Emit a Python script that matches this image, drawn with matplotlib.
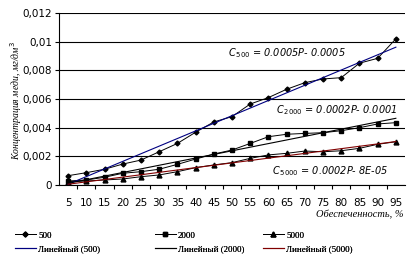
import numpy as np
import matplotlib.pyplot as plt

# обеспеченность, %
p = [5, 10, 15, 20, 25, 30, 35, 40, 45, 50, 55, 60, 65, 70, 75, 80, 85, 90, 95]

c500 = [0.00065, 0.00086, 0.0011, 0.00146, 0.00174, 0.00232, 0.0029, 0.00368, 0.0044,
        0.00477, 0.00565, 0.0061, 0.00668, 0.00714, 0.0074, 0.00749, 0.0085, 0.00884, 0.0102]
c2000 = [0.00028, 0.00035, 0.00054, 0.00082, 0.00093, 0.0011, 0.00144, 0.00181, 0.00216,
         0.00244, 0.0029, 0.00337, 0.00354, 0.0036, 0.00365, 0.00379, 0.004, 0.00426, 0.00435]
c5000 = [0.00023, 0.00028, 0.00035, 0.00042, 0.00058, 0.0007, 0.00093, 0.00121, 0.0014,
         0.00156, 0.00186, 0.0021, 0.00221, 0.00237, 0.00232, 0.00239, 0.00256, 0.00284, 0.00302]

yticks = [0, 0.002, 0.004, 0.006, 0.008, 0.01, 0.012]
ytick_labels = ['0', '0,002', '0,004', '0,006', '0,008', '0,01', '0,012']

plt.rcParams['font.family'] = ['DejaVu Sans']

fig = plt.figure(figsize=(4.08, 2.59), dpi=100)
ax = fig.add_axes([0.1446, 0.2857, 0.848, 0.664])

idx = np.arange(1, len(p) + 1)

# данные
h500, = ax.plot(idx, c500, color='black', lw=0.7, marker='D', ms=2.5, label='500')
h2000, = ax.plot(idx, c2000, color='black', lw=0.7, marker='s', ms=3.2, label='2000')
h5000, = ax.plot(idx, c5000, color='black', lw=0.7, marker='^', ms=3.5, label='5000')

# линейные тренды (по номеру категории, как в Excel)
trend_colors = ['#000080', 'black', '#800000']
trend_handles = []
for ser, col, name in zip([c500, c2000, c5000], trend_colors, ['500', '2000', '5000']):
    k, b = np.polyfit(idx, ser, 1)
    h, = ax.plot(idx, k * idx + b, color=col, lw=0.8, label='Линейный (%s)' % name)
    trend_handles.append(h)

ax.set_xlim(0.5, len(p) + 0.5)
ax.set_ylim(0, 0.012)
ax.set_yticks(yticks)
ax.set_yticklabels(ytick_labels)
ax.set_xticks(idx)
ax.set_xticklabels([str(v) for v in p])
ax.set_xticks(np.arange(1.5, len(p) + 0.5, 1), minor=True)
ax.tick_params(axis='x', which='major', length=0, pad=9, labelsize=7.5)
ax.tick_params(axis='x', which='minor', length=3, width=0.8, direction='out')
ax.tick_params(axis='y', length=3, width=0.8, labelsize=7.5, pad=2)

ax.grid(axis='y', color='black', lw=0.8)
ax.set_axisbelow(True)
for s in ['top', 'right']:
    ax.spines[s].set_visible(False)
ax.spines['left'].set_linewidth(0.8)
ax.spines['bottom'].set_linewidth(0.8)

ax.text(9.8, 0.0092, r'$C_{\,500}$ = 0.0005P- 0.0005', fontsize=7, style='italic', va='center')
ax.text(12.4, 0.0052, r'$C_{\,2000}$ = 0.0002P- 0.0001', fontsize=7, style='italic', va='center')
ax.text(12.2, 0.00098, r'$C_{\,5000}$ = 0.0002P- 8E-05', fontsize=7, style='italic', va='center')

fig.text(0.04, 0.61, 'Концентрация меди, мг/дм$^3$', rotation=90, ha='center', va='center',
         fontsize=7, style='italic', family='Liberation Serif')
fig.text(0.99, 0.17, 'Обеспеченность, %', ha='right', va='center', fontsize=7.5,
         style='italic', family='Liberation Serif')

# легенда: три колонки в разных местах, как в Excel
leg_x = [15, 155, 263]
pairs = [(h500, trend_handles[0]), (h2000, trend_handles[1]), (h5000, trend_handles[2])]
for x0, pair in zip(leg_x, pairs):
    leg = fig.legend(handles=list(pair), labels=[h.get_label() for h in pair],
                     loc='center left', bbox_to_anchor=(x0 / 408 - 0.012, 1 - 242 / 259),
                     frameon=False, prop={'family': 'Liberation Serif', 'size': 6.5},
                     handlelength=2.4, handletextpad=0.2, labelspacing=0.55,
                     borderpad=0.0)
    fig.add_artist(leg)

fig.savefig('out.png', dpi=100)
